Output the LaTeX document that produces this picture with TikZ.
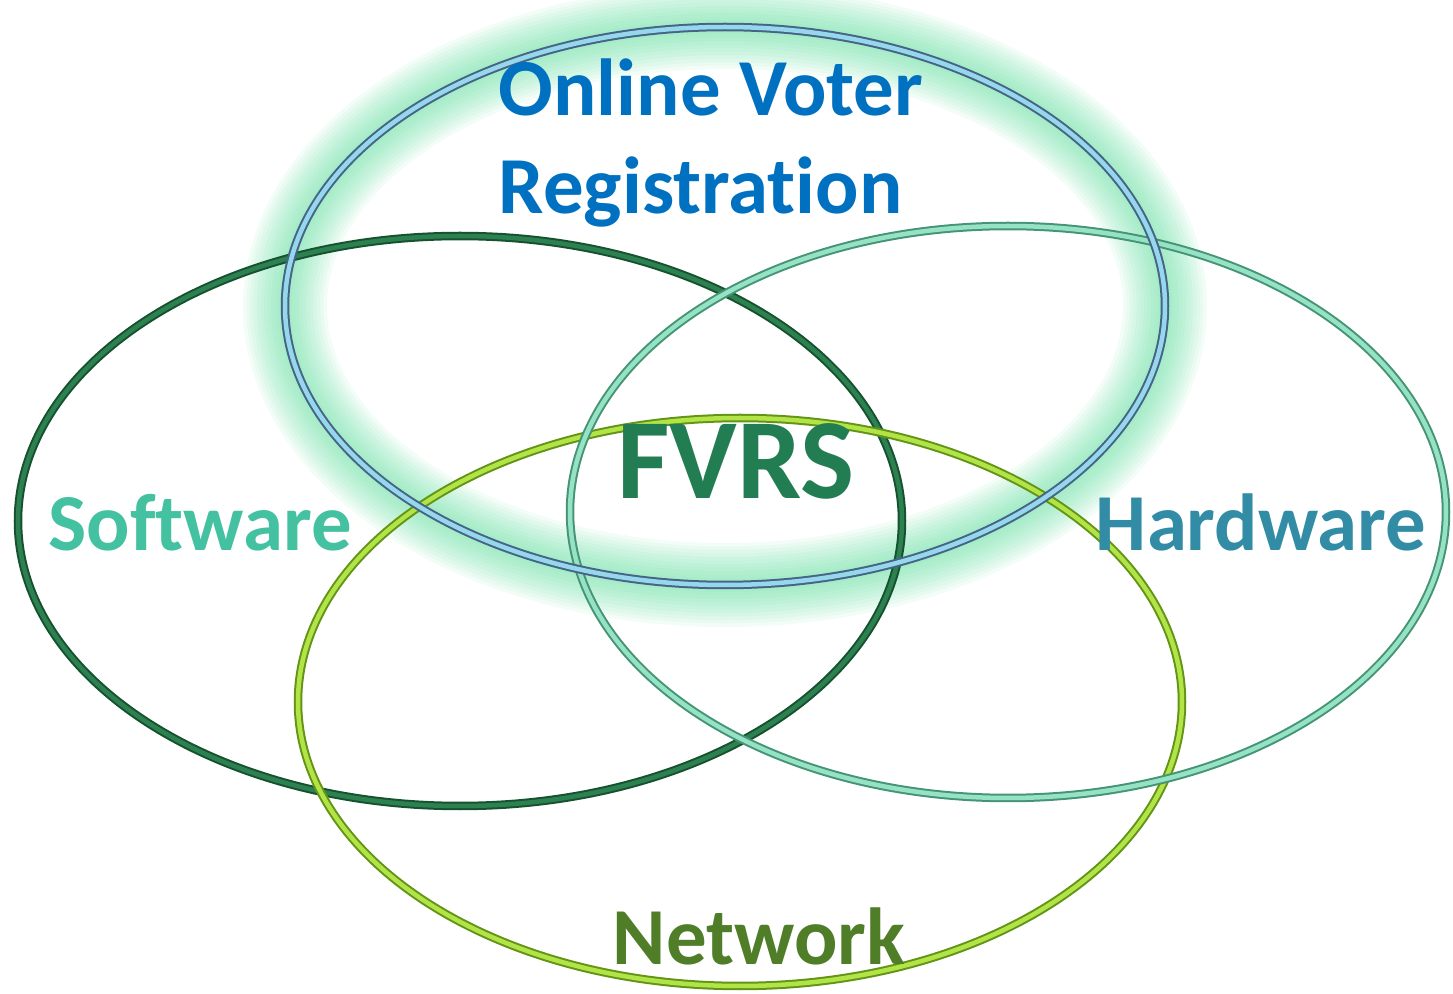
\documentclass[tikz,border=0pt]{standalone}
\usepackage{fontspec}
\setmainfont{Carlito}[Ligatures=NoCommon]
\definecolor{glowgreen}{RGB}{100,222,160}
\definecolor{topdark}{RGB}{70,100,135}
\definecolor{toplight}{RGB}{150,215,235}
\definecolor{softdark}{RGB}{22,82,48}
\definecolor{softlight}{RGB}{45,128,80}
\definecolor{harddark}{RGB}{70,148,118}
\definecolor{hardlight}{RGB}{150,226,196}
\definecolor{netdark}{RGB}{98,148,22}
\definecolor{netlight}{RGB}{178,228,72}
\definecolor{ovrblue}{RGB}{0,112,192}
\definecolor{fvrsgreen}{RGB}{35,125,82}
\definecolor{softtext}{RGB}{68,193,160}
\definecolor{hardtext}{RGB}{50,140,165}
\definecolor{nettext}{RGB}{79,125,40}
\tikzset{
  tubeout/.style={line width=0.85mm},
  tubein/.style={line width=0.45mm},
  label/.style={font=\fontsize{23}{28}\selectfont\bfseries, inner sep=0pt, anchor=base}
}

\begin{document}
\begin{tikzpicture}[x=0.01cm, y=0.01cm]
\useasboundingbox (0,0) rectangle (1453,-994);
\foreach \w in {8.4,7.7,...,0.7}
  \draw [glowgreen, line width=\w mm, opacity=0.075] (725,-306) ellipse (440 and 279);
\draw [tubeout, softdark] (460,-521) ellipse (442 and 285);
\draw [tubein, softlight] (460,-521) ellipse (442 and 285);
\draw [tubeout, netdark] (740,-702) ellipse (442 and 284);
\draw [tubein, netlight] (740,-702) ellipse (442 and 284);
\draw [tubeout, harddark] (1008,-512) ellipse (438 and 286);
\draw [tubein, hardlight] (1008,-512) ellipse (438 and 286);
\draw [tubeout, topdark] (725,-306) ellipse (440 and 279);
\draw [tubein, toplight] (725,-306) ellipse (440 and 279);
\node (ovr) [label, anchor=north west, align=left, text=ovrblue] at (498,-58)
  {Online Voter\\Registration};
\node (fvrs) [label, text=fvrsgreen, font=\fontsize{32.5}{38}\selectfont\bfseries] at (736,-499) {FVRS};
\node (software) [label, text=softtext] at (200,-551) {Software};
\node (hardware) [label, text=hardtext] at (1261,-551) {Hardware};
\node (network) [label, text=nettext] at (759,-965) {Network};
\end{tikzpicture}
\end{document}
